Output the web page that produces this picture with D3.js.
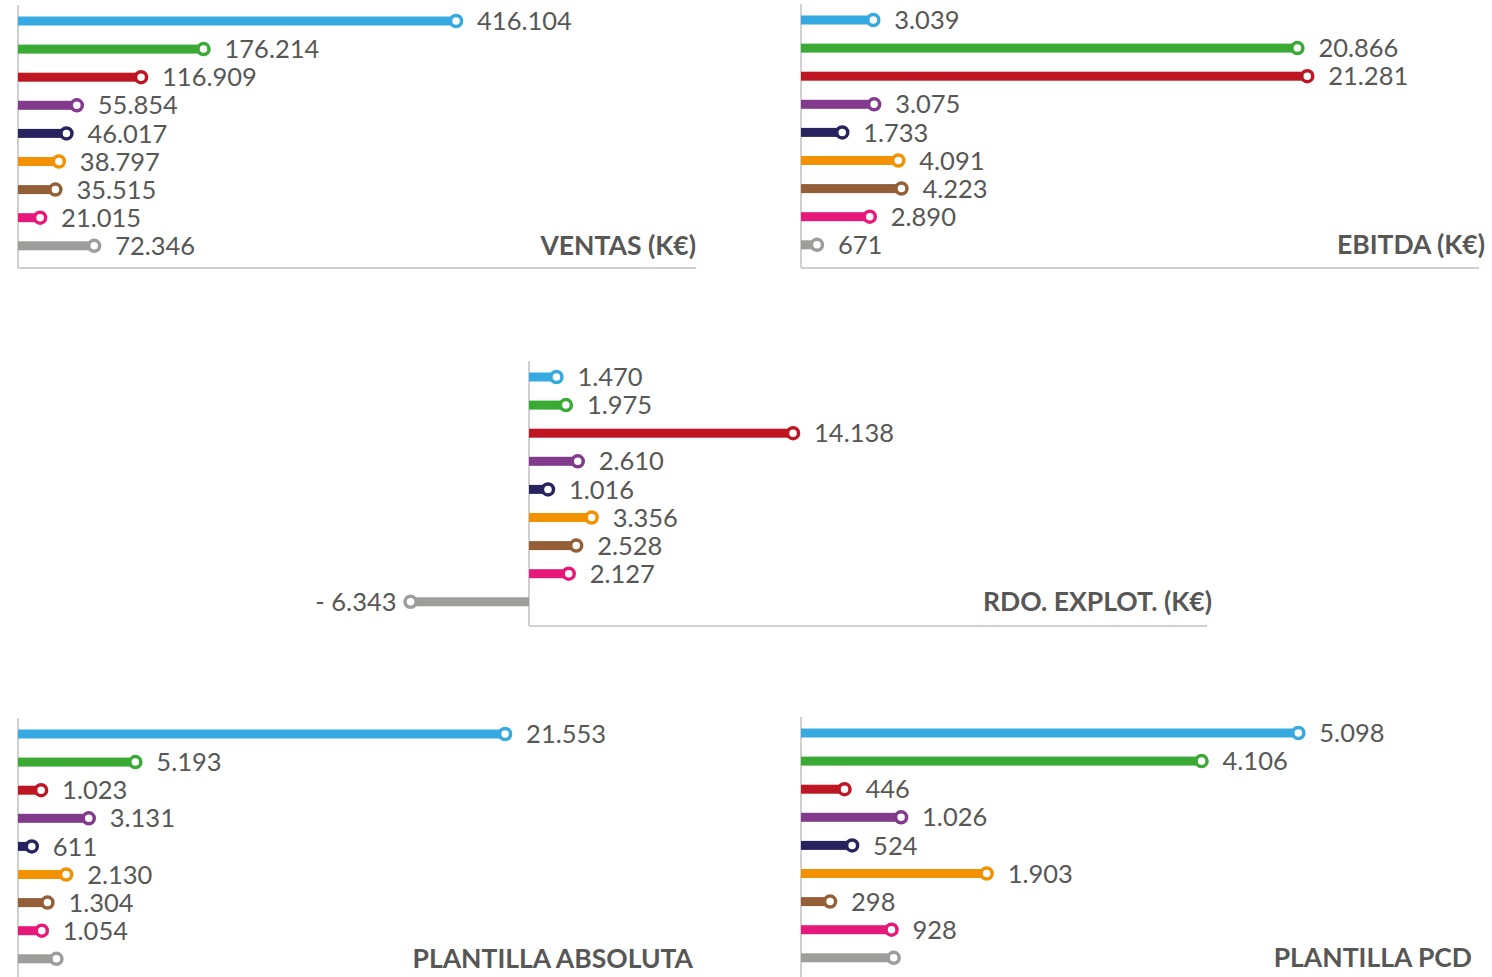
<!DOCTYPE html>
<html lang="es">
<head>
<meta charset="utf-8">
<title>Indicadores</title>
<script src="https://cdn.jsdelivr.net/npm/d3@7"></script>
<style>
  body { margin: 0; background: #fff; }
  text { font-family: Lato, "Open Sans", sans-serif; }
</style>
</head>
<body>
<script>
// series (one colour per row, same order in every panel)
const series = ["S1", "S2", "S3", "S4", "S5", "S6", "S7", "S8", "S9"]
const colors = ["#36a9e1", "#3aaa35", "#be1622", "#823a8d", "#27235f", "#f39200", "#945f37", "#e6197a", "#9d9d9c"]

const ventas = [416104, 176214, 116909, 55854, 46017, 38797, 35515, 21015, 72346]
const ebitda = [3039, 20866, 21281, 3075, 1733, 4091, 4223, 2890, 671]
const rdo = [1470, 1975, 14138, 2610, 1016, 3356, 2528, 2127, -6343]
const plantilla = [21553, 5193, 1023, 3131, 611, 2130, 1304, 1054, 1700]
const pcd = [5098, 4106, 446, 1026, 524, 1903, 298, 928, 950]
// rows with no printed value
const plantillaHidden = [8]
const pcdHidden = [8]

const w = 1492
const h = 977
const svg = d3.select("body").append("svg")
    .attr("width", w)
    .attr("height", h)

const fmt = d3.formatLocale({decimal: ",", thousands: ".", grouping: [3], currency: ["", "€"]}).format(",d")
function label(v) {
    if (v < 0) return "- " + fmt(-v)
    return fmt(v)
}

function panel(opt) {
    const g = svg.append("g")
    const x = d3.scaleLinear().domain([0, opt.max]).range([opt.x0, opt.x0 + 678])
    const y = d3.scalePoint().domain(series).range([opt.top, opt.top + 8 * 28.1])

    // axis lines
    g.append("line")
        .attr("x1", opt.x0).attr("x2", opt.x0)
        .attr("y1", opt.top - 16).attr("y2", opt.bottom)
        .attr("stroke", "#d0d0d0").attr("stroke-width", 2)
    if (opt.baseline) {
        g.append("line")
            .attr("x1", opt.x0).attr("x2", opt.x0 + 678)
            .attr("y1", opt.bottom).attr("y2", opt.bottom)
            .attr("stroke", "#d0d0d0").attr("stroke-width", 2)
    }

    const rows = g.selectAll("g.row")
        .data(opt.values.map((v, i) => ({v: v, s: series[i], c: colors[i], i: i})))
        .enter().append("g").attr("class", "row")

    rows.append("rect")
        .attr("x", d => Math.min(x(0), x(d.v)))
        .attr("y", d => y(d.s) - 4.5)
        .attr("width", d => Math.abs(x(d.v) - x(0)))
        .attr("height", 9)
        .attr("fill", d => d.c)

    rows.append("circle")
        .attr("cx", d => x(d.v))
        .attr("cy", d => y(d.s))
        .attr("r", 5.5)
        .attr("fill", "#fff")
        .attr("stroke", d => d.c)
        .attr("stroke-width", 3.5)

    rows.filter(d => !(opt.hidden || []).includes(d.i))
        .append("text")
        .attr("x", d => d.v < 0 ? x(d.v) - 14 : x(d.v) + 21)
        .attr("y", d => y(d.s))
        .attr("dy", "0.36em")
        .attr("text-anchor", d => d.v < 0 ? "end" : "start")
        .attr("font-size", "25.5px")
        .attr("fill", "#575756")
        .text(d => label(d.v))

    g.append("text")
        .attr("x", opt.titleX)
        .attr("y", opt.top + 8 * 28.1)
        .attr("dy", "0.36em")
        .attr("text-anchor", "end")
        .attr("font-size", "26.5px")
        .attr("font-weight", "bold")
        .attr("fill", "#575756")
        .text(opt.title)
}

panel({x0: 18, top: 21, bottom: 268, max: 644000, values: ventas, title: "VENTAS (K€)", titleX: 696, baseline: true})
panel({x0: 801, top: 20, bottom: 268, max: 28500, values: ebitda, title: "EBITDA (K€)", titleX: 1485, baseline: true})
panel({x0: 529, top: 377, bottom: 626, max: 36300, values: rdo, title: "RDO. EXPLOT. (K€)", titleX: 1212, baseline: true})
panel({x0: 18, top: 734, bottom: 980, max: 30000, values: plantilla, hidden: plantillaHidden, title: "PLANTILLA ABSOLUTA", titleX: 693})
panel({x0: 801, top: 733, bottom: 980, max: 6950, values: pcd, hidden: pcdHidden, title: "PLANTILLA PCD", titleX: 1472})
</script>
</body>
</html>
